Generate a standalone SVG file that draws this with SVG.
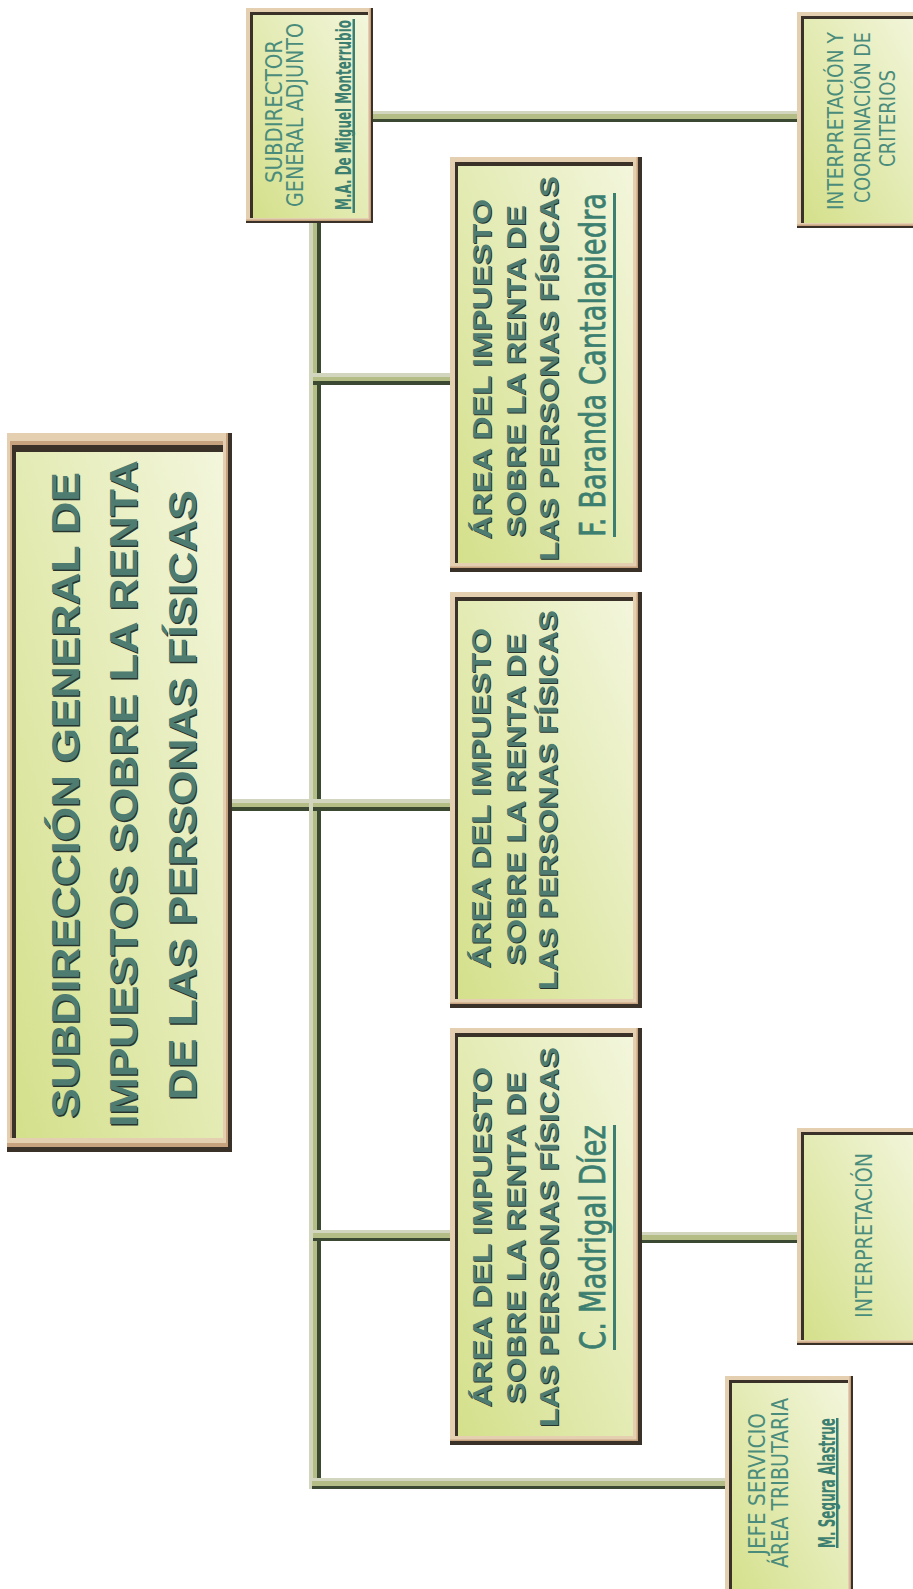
<svg xmlns="http://www.w3.org/2000/svg" width="913" height="1589" viewBox="0 0 913 1589">
<defs>
<linearGradient id="gf" x1="1" y1="0" x2="0" y2="1">
<stop offset="0" stop-color="#f3f6dc"/>
<stop offset="0.45" stop-color="#e5ecb8"/>
<stop offset="1" stop-color="#d4e08b"/>
</linearGradient>
<linearGradient id="gh" x1="0" y1="0" x2="0" y2="1">
<stop offset="0" stop-color="#d2d6bf"/>
<stop offset="0.3" stop-color="#d2d6bf"/>
<stop offset="0.3" stop-color="#b5bd86"/>
<stop offset="0.7" stop-color="#b5bd86"/>
<stop offset="0.7" stop-color="#3b4932"/>
<stop offset="1" stop-color="#3b4932"/>
</linearGradient>
<linearGradient id="gv" x1="0" y1="0" x2="1" y2="0">
<stop offset="0" stop-color="#d2d6bf"/>
<stop offset="0.3" stop-color="#d2d6bf"/>
<stop offset="0.3" stop-color="#b5bd86"/>
<stop offset="0.7" stop-color="#b5bd86"/>
<stop offset="0.7" stop-color="#3b4932"/>
<stop offset="1" stop-color="#3b4932"/>
</linearGradient>
</defs>
<style>
.fd{fill:#3a3129}
.fm{fill:#c7a27e}
.ft{fill:#e4cfb1}
.ff{fill:url(#gf)}
.tb{font-family:"Liberation Sans",Arial,sans-serif;font-weight:bold;text-anchor:middle}
.sh{fill:#26342d}
.tt{fill:#4e7c71}
.tn{font-family:"Liberation Sans Narrow","DejaVu Sans Condensed","Liberation Sans",sans-serif;text-anchor:middle;fill:#4a8c7c}
.nm{font-family:"Liberation Sans Narrow","DejaVu Sans Condensed","Liberation Sans",sans-serif;text-anchor:middle;fill:#3c7f70}
.nb{stroke:#3c7f70;stroke-width:0.7}
.ul{fill:#3c7f70}
</style>
<rect width="913" height="1589" fill="#ffffff"/>

<g id="connectors">
<rect x="232" y="799" width="78" height="12" fill="url(#gh)"/>
<rect x="309" y="223" width="12" height="1266" fill="url(#gv)"/>
<rect x="373" y="111" width="424" height="11" fill="url(#gh)"/>
<rect x="313" y="373" width="137" height="12" fill="url(#gh)"/>
<rect x="313" y="799" width="137" height="12" fill="url(#gh)"/>
<rect x="313" y="1230" width="137" height="11" fill="url(#gh)"/>
<rect x="642" y="1232" width="155" height="11" fill="url(#gh)"/>
<rect x="312" y="1478" width="413" height="11" fill="url(#gh)"/>
</g>

<g id="main">
<rect class="fd" x="7" y="433" width="225" height="719"/>
<rect class="fm" x="7" y="433" width="221" height="714"/>
<rect class="ft" x="7" y="433" width="219" height="710"/>
<rect class="fm" x="10" y="441" width="213" height="697"/>
<rect class="fd" x="12" y="445" width="211" height="693"/>
<rect class="ff" x="16" y="452" width="207" height="686"/>
<g class="tb" font-size="39">
<text class="sh" transform="translate(80,796.5) rotate(-90)" textLength="646" lengthAdjust="spacingAndGlyphs">SUBDIRECCIÓN GENERAL DE</text>
<text class="tt" transform="translate(78.5,795) rotate(-90)" textLength="646" lengthAdjust="spacingAndGlyphs">SUBDIRECCIÓN GENERAL DE</text>
<text class="sh" transform="translate(138,795) rotate(-90)" textLength="667" lengthAdjust="spacingAndGlyphs">IMPUESTOS SOBRE LA RENTA</text>
<text class="tt" transform="translate(136.5,793.5) rotate(-90)" textLength="667" lengthAdjust="spacingAndGlyphs">IMPUESTOS SOBRE LA RENTA</text>
<text class="sh" transform="translate(197,796.5) rotate(-90)" textLength="610" lengthAdjust="spacingAndGlyphs">DE LAS PERSONAS FÍSICAS</text>
<text class="tt" transform="translate(195.5,795) rotate(-90)" textLength="610" lengthAdjust="spacingAndGlyphs">DE LAS PERSONAS FÍSICAS</text>
</g>
</g>

<g id="subdirector">
<rect class="fd" x="246" y="8" width="127" height="215"/>
<rect class="fm" x="246" y="8" width="125" height="213"/>
<rect class="ft" x="246" y="8" width="123.5" height="211.5"/>
<rect class="fd" x="250" y="12" width="118" height="206"/>
<rect class="ff" x="253" y="15" width="115" height="203"/>
<text class="tn" font-size="23" transform="translate(282,111.5) rotate(-90)" textLength="143" lengthAdjust="spacingAndGlyphs">SUBDIRECTOR</text>
<text class="tn" font-size="23" transform="translate(303,115) rotate(-90)" textLength="184" lengthAdjust="spacingAndGlyphs">GENERAL ADJUNTO</text>
<text class="nm" font-size="22" font-weight="bold" transform="translate(351,115) rotate(-90)" textLength="190" lengthAdjust="spacingAndGlyphs">M.A. De Miguel Monterrubio</text>
<rect class="ul" x="352.5" y="19" width="2.5" height="194"/>
</g>

<g id="interp-coord">
<rect class="fd" x="797" y="12" width="130" height="216"/>
<rect class="fm" x="797" y="12" width="128" height="214"/>
<rect class="ft" x="797" y="12" width="126.5" height="212.5"/>
<rect class="fd" x="801" y="16" width="121" height="207"/>
<rect class="ff" x="804" y="19" width="118" height="204"/>
<text class="tn" font-size="21" transform="translate(843,121) rotate(-90)" textLength="178" lengthAdjust="spacingAndGlyphs">INTERPRETACIÓN Y</text>
<text class="tn" font-size="21" transform="translate(870,117.5) rotate(-90)" textLength="171" lengthAdjust="spacingAndGlyphs">COORDINACIÓN DE</text>
<text class="tn" font-size="21" transform="translate(895,118.5) rotate(-90)" textLength="97" lengthAdjust="spacingAndGlyphs">CRITERIOS</text>
</g>

<g id="area-baranda">
<rect class="fd" x="450" y="157" width="192" height="415"/>
<rect class="fm" x="450" y="157" width="188" height="411"/>
<rect class="ft" x="450" y="157" width="186.5" height="409.5"/>
<rect class="fd" x="455" y="162" width="178" height="401"/>
<rect class="ff" x="458" y="166" width="175" height="397"/>
<g class="tb" font-size="25">
<text class="sh" transform="translate(491.5,370) rotate(-90)" textLength="340" lengthAdjust="spacingAndGlyphs">ÁREA DEL IMPUESTO</text>
<text class="tt" transform="translate(490.5,369) rotate(-90)" textLength="340" lengthAdjust="spacingAndGlyphs">ÁREA DEL IMPUESTO</text>
<text class="sh" transform="translate(526,372) rotate(-90)" textLength="332" lengthAdjust="spacingAndGlyphs">SOBRE LA RENTA DE</text>
<text class="tt" transform="translate(525,371) rotate(-90)" textLength="332" lengthAdjust="spacingAndGlyphs">SOBRE LA RENTA DE</text>
<text class="sh" transform="translate(558.5,369.5) rotate(-90)" textLength="385" lengthAdjust="spacingAndGlyphs">LAS PERSONAS FÍSICAS</text>
<text class="tt" transform="translate(557.5,368.5) rotate(-90)" textLength="385" lengthAdjust="spacingAndGlyphs">LAS PERSONAS FÍSICAS</text>
</g>
<text class="nm nb" font-size="36" transform="translate(605,365) rotate(-90)" textLength="344" lengthAdjust="spacingAndGlyphs">F. Baranda  Cantalapiedra</text>
<rect class="ul" x="613" y="193" width="3" height="344"/>
</g>

<g id="area-middle">
<rect class="fd" x="450" y="592" width="192" height="416"/>
<rect class="fm" x="450" y="592" width="188" height="412"/>
<rect class="ft" x="450" y="592" width="186.5" height="410.5"/>
<rect class="fd" x="455" y="597" width="178" height="402"/>
<rect class="ff" x="458" y="601" width="175" height="398"/>
<g class="tb" font-size="25">
<text class="sh" transform="translate(491,799) rotate(-90)" textLength="340" lengthAdjust="spacingAndGlyphs">ÁREA DEL IMPUESTO</text>
<text class="tt" transform="translate(490,798) rotate(-90)" textLength="340" lengthAdjust="spacingAndGlyphs">ÁREA DEL IMPUESTO</text>
<text class="sh" transform="translate(525.5,800) rotate(-90)" textLength="332" lengthAdjust="spacingAndGlyphs">SOBRE LA RENTA DE</text>
<text class="tt" transform="translate(524.5,799) rotate(-90)" textLength="332" lengthAdjust="spacingAndGlyphs">SOBRE LA RENTA DE</text>
<text class="sh" transform="translate(558,801) rotate(-90)" textLength="380" lengthAdjust="spacingAndGlyphs">LAS PERSONAS FÍSICAS</text>
<text class="tt" transform="translate(557,800) rotate(-90)" textLength="380" lengthAdjust="spacingAndGlyphs">LAS PERSONAS FÍSICAS</text>
</g>
</g>

<g id="area-madrigal">
<rect class="fd" x="450" y="1028" width="192" height="417"/>
<rect class="fm" x="450" y="1028" width="188" height="413"/>
<rect class="ft" x="450" y="1028" width="186.5" height="411.5"/>
<rect class="fd" x="455" y="1033" width="178" height="403"/>
<rect class="ff" x="458" y="1037" width="175" height="399"/>
<g class="tb" font-size="25">
<text class="sh" transform="translate(491.5,1238) rotate(-90)" textLength="340" lengthAdjust="spacingAndGlyphs">ÁREA DEL IMPUESTO</text>
<text class="tt" transform="translate(490.5,1237) rotate(-90)" textLength="340" lengthAdjust="spacingAndGlyphs">ÁREA DEL IMPUESTO</text>
<text class="sh" transform="translate(526,1238.5) rotate(-90)" textLength="332" lengthAdjust="spacingAndGlyphs">SOBRE LA RENTA DE</text>
<text class="tt" transform="translate(525,1237.5) rotate(-90)" textLength="332" lengthAdjust="spacingAndGlyphs">SOBRE LA RENTA DE</text>
<text class="sh" transform="translate(558.5,1238) rotate(-90)" textLength="380" lengthAdjust="spacingAndGlyphs">LAS PERSONAS FÍSICAS</text>
<text class="tt" transform="translate(557.5,1237) rotate(-90)" textLength="380" lengthAdjust="spacingAndGlyphs">LAS PERSONAS FÍSICAS</text>
</g>
<text class="nm nb" font-size="36" transform="translate(605,1237.5) rotate(-90)" textLength="225" lengthAdjust="spacingAndGlyphs">C. Madrigal  Díez</text>
<rect class="ul" x="613" y="1125" width="3" height="225"/>
</g>

<g id="interpretacion">
<rect class="fd" x="797" y="1128" width="130" height="217"/>
<rect class="fm" x="797" y="1128" width="128" height="215"/>
<rect class="ft" x="797" y="1128" width="126.5" height="213.5"/>
<rect class="fd" x="801" y="1132" width="121" height="208"/>
<rect class="ff" x="804" y="1135" width="118" height="205"/>
<text class="tn" font-size="23" transform="translate(872,1235.5) rotate(-90)" textLength="165" lengthAdjust="spacingAndGlyphs">INTERPRETACIÓN</text>
</g>

<g id="jefe">
<rect class="fd" x="725" y="1376" width="128" height="230"/>
<rect class="fm" x="725" y="1376" width="126" height="228"/>
<rect class="ft" x="725" y="1376" width="124.5" height="226.5"/>
<rect class="fd" x="729" y="1380" width="119" height="221"/>
<rect class="ff" x="732" y="1383" width="116" height="218"/>
<text class="tn" font-size="23" transform="translate(765,1484) rotate(-90)" textLength="142" lengthAdjust="spacingAndGlyphs">JEFE SERVICIO</text>
<text class="tn" font-size="23" transform="translate(788,1483) rotate(-90)" textLength="170" lengthAdjust="spacingAndGlyphs">ÁREA TRIBUTARIA</text>
<text class="nm" font-size="23" font-weight="bold" transform="translate(835,1483) rotate(-90)" textLength="130" lengthAdjust="spacingAndGlyphs">M. Segura  Alastrue</text>
<rect class="ul" x="836" y="1418" width="2.5" height="130"/>
</g>
</svg>
